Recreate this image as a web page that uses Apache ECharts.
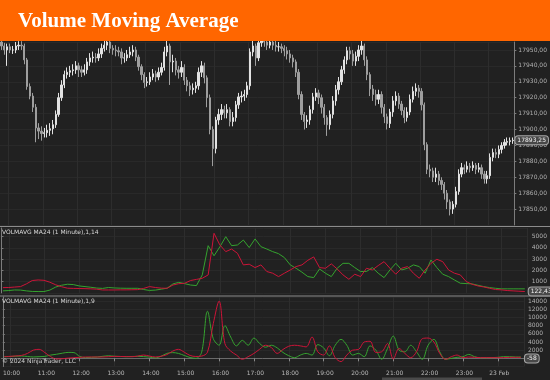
<!DOCTYPE html>
<html><head><meta charset="utf-8">
<script src="https://cdn.jsdelivr.net/npm/echarts@6/dist/echarts.min.js"></script>
<style>html,body{margin:0;padding:0;background:#212121;}#c{width:550px;height:380px;}</style>
</head><body><div id="c"></div>
<script>
// ---- categories (5-minute bars) ----
const barTimes = [
"09:45","09:50","09:55",
"10:00","10:05","10:10","10:15","10:20","10:25","10:30","10:35","10:40","10:45","10:50","10:55",
"11:00","11:05","11:10","11:15","11:20","11:25","11:30","11:35","11:40","11:45","11:50","11:55",
"12:00","12:05","12:10","12:15","12:20","12:25","12:30","12:35","12:40","12:45","12:50","12:55",
"13:00","13:05","13:10","13:15","13:20","13:25","13:30","13:35","13:40","13:45","13:50","13:55",
"14:00","14:05","14:10","14:15","14:20","14:25","14:30","14:35","14:40","14:45","14:50","14:55",
"15:00","15:05","15:10","15:15","15:20","15:25","15:30","15:35","15:40","15:45","15:50","15:55",
"16:00","16:05","16:10","16:15","16:20","16:25","16:30","16:35","16:40","16:45","16:50","16:55",
"17:00","17:05","17:10","17:15","17:20","17:25","17:30","17:35","17:40","17:45","17:50","17:55",
"18:00","18:05","18:10","18:15","18:20","18:25","18:30","18:35","18:40","18:45","18:50","18:55",
"19:00","19:05","19:10","19:15","19:20","19:25","19:30","19:35","19:40","19:45","19:50","19:55",
"20:00","20:05","20:10","20:15","20:20","20:25","20:30","20:35","20:40","20:45","20:50","20:55",
"21:00","21:05","21:10","21:15","21:20","21:25","21:30","21:35","21:40","21:45","21:50","21:55",
"22:00","22:05","22:10","22:15","22:20","22:25","22:30","22:35","22:40","22:45","22:50","22:55",
"23:00","23:05","23:10","23:15","23:20","23:25","23:30","23:35","23:40","23:45","23:50","23:55",
"00:00","00:05","00:10","00:15","00:20","00:25","00:30","00:35","00:40"
];
// ---- tick labels ----
const tickTimes  = ["10:00","11:00","12:00","13:00","14:00","15:00","16:00","17:00","18:00","19:00","20:00","21:00","22:00","23:00","00:00"];
const tickLabels = ["10:00","11:00","12:00","13:00","14:00","15:00","16:00","17:00","18:00","19:00","20:00","21:00","22:00","23:00","23 Feb"];

// ---- price bars (OHLC) ----
const opens = [
17955,17952.5,17950,17952,17950,17950,17952.5,17953,17952.5,17943.75,
17927,17921,17914,17901,17899,17897.5,17898,17899.5,17900.5,17903,
17909.5,17920,17928,17934.5,17936,17937,17937.5,17940,17937.5,17936,
17937.5,17942.5,17945,17945.5,17945,17947.5,17951,17953,17955,17951,
17950,17949.5,17948.75,17945,17945,17947,17948.75,17950,17945.5,17939.5,
17934.5,17929.5,17930,17933,17935,17933,17936,17939,17948.75,17952.5,
17942.5,17943,17937.5,17936,17939,17931,17927.5,17925,17926,17927.5,
17936,17940,17932.5,17920,17900,17888,17906,17909.5,17912.5,17910.5,
17912.5,17905,17907.5,17915.5,17920.5,17921,17922,17927.5,17948.75,17952.5,
17945,17954.5,17956,17955,17953,17955,17953,17952,17952,17951,
17949.5,17947.5,17945,17942.5,17936,17922,17909.5,17905,17906,17912.5,
17920.5,17923,17920,17914,17907.5,17903,17909.5,17918,17925,17930,
17937.5,17943.75,17949.5,17947.5,17943,17946,17950,17952.5,17943.75,17934.5,
17925.5,17922,17919,17922,17914,17908,17903.75,17911,17918,17921,
17916,17912,17907.5,17911,17919,17924,17926,17924,17915.5,17890.5,
17875,17874,17870,17872,17868,17865.5,17860,17854.5,17850,17853,
17861,17872,17876,17875,17877,17876,17877.5,17875,17876,17872,
17869,17871,17882.5,17885.5,17884.5,17887.5,17890,17892,17892.5,17893
];
const closes = [
17952.5,17950,17952,17950,17950,17952.5,17953,17952.5,17943.75,17927,
17921,17914,17901,17899,17897.5,17898,17899.5,17900.5,17903,17909.5,
17920,17928,17934.5,17936,17937,17937.5,17940,17937.5,17936,17937.5,
17942.5,17945,17945.5,17945,17947.5,17951,17953,17955,17951,17950,
17949.5,17948.75,17945,17945,17947,17948.75,17950,17945.5,17939.5,17934.5,
17929.5,17930,17933,17935,17933,17936,17939,17948.75,17952.5,17942.5,
17943,17937.5,17936,17939,17931,17927.5,17925,17926,17927.5,17936,
17940,17932.5,17920,17900,17888,17906,17909.5,17912.5,17910.5,17912.5,
17905,17907.5,17915.5,17920.5,17921,17922,17927.5,17948.75,17952.5,17945,
17954.5,17956,17955,17953,17955,17953,17952,17952,17951,17949.5,
17947.5,17945,17942.5,17936,17922,17909.5,17905,17906,17912.5,17920.5,
17923,17920,17914,17907.5,17903,17909.5,17918,17925,17930,17937.5,
17943.75,17949.5,17947.5,17943,17946,17950,17952.5,17943.75,17934.5,17925.5,
17922,17919,17922,17914,17908,17903.75,17911,17918,17921,17916,
17912,17907.5,17911,17919,17924,17926,17924,17915.5,17890.5,17875,
17874,17870,17872,17868,17865.5,17860,17854.5,17850,17853,17861,
17872,17876,17875,17877,17876,17877.5,17875,17876,17872,17869,
17871,17882.5,17885.5,17884.5,17887.5,17890,17892,17892.5,17893,17893.25
];
const lows = [
17950,17947,17940,17948,17947.5,17948,17950,17950,17941,17925,
17919,17911,17892,17894,17893,17895,17895,17896,17897,17901,
17908,17918,17926,17932,17933,17934,17935,17933,17933,17934,
17935,17940,17942,17942,17943,17945,17949,17950,17948,17947,
17946,17946,17941,17942,17943,17945,17946,17943,17937,17931,
17926,17927,17928,17931,17930,17931,17934,17937,17946,17928,
17936,17934,17932,17933,17928,17924,17921,17922,17923,17925,
17933,17929,17914,17897,17877,17885,17903,17906,17907,17907,
17902,17902,17905,17913,17917,17918,17920,17925,17946,17940,
17943,17952,17952,17950,17951,17950,17949,17949,17948,17946,
17944,17942,17939,17933,17919,17906,17900,17901,17903,17910,
17918,17916,17910,17903,17896,17900,17907,17915,17922,17928,
17935,17941,17944,17940,17940,17943,17947,17940,17931,17921,
17918,17915,17916,17910,17904,17900,17901,17908,17915,17913,
17909,17904,17905,17909,17917,17921,17920,17912,17887,17872,
17870,17867,17867,17865,17862,17856,17850,17846,17847,17851,
17859,17870,17872,17873,17873,17874,17872,17873,17869,17866,
17866,17869,17880,17882,17882,17885,17888,17890,17890,17891
];
const highs = [
17957,17954.5,17954,17954,17952.5,17955,17955.5,17955.5,17954,17945,
17929,17923,17916,17904,17902,17901,17903,17904,17906,17912,
17923,17931,17937,17939,17940,17941,17943,17942,17940,17941,
17945,17948,17949,17948,17951,17954,17957,17958,17957,17953,
17953,17952,17951,17948,17950,17952,17953,17952,17947,17941,
17936,17933,17936,17938,17937,17939,17942,17952,17956,17954,
17947,17945,17940,17943,17941,17933,17930,17929,17930,17939,
17943,17942,17934,17922,17902,17908,17913,17916,17915,17916,
17914,17911,17918,17923,17924,17925,17930,17951,17956,17954,
17958,17960,17959,17957,17958,17957,17956,17955,17954,17953,
17952,17950,17947,17944,17938,17924,17911,17909,17915,17923,
17926,17925,17922,17916,17909,17912,17921,17928,17933,17940,
17946,17952,17952,17950,17949,17953,17956,17954,17946,17936,
17928,17925,17925,17924,17916,17910,17913,17921,17924,17923,
17918,17914,17914,17922,17927,17929,17928,17926,17917,17892,
17878,17876,17876,17874,17870,17867,17862,17856,17855,17864,
17875,17879,17878,17880,17879,17880,17879,17879,17878,17874,
17874,17885,17888,17888,17890,17892,17894,17895,17895,17895
];

// ---- indicator series (one value per 10 minutes) ----
const midRed = [
470,480,520,560,800,1100,1150,1120,950,720,
550,420,400,390,380,360,330,260,260,260,
270,270,280,290,400,560,480,420,410,700,
820,860,1100,1200,1300,1600,5300,4260,3670,3900,
3520,2490,2550,2250,2490,1900,1750,1450,1750,2040,
2340,2490,2900,3200,2250,2190,2580,2130,1600,1210,
1660,1450,2190,2040,2430,2780,2190,1660,2190,2340,
1750,1300,2040,2630,2990,2780,2040,1750,1600,1010,
770,620,530,410,300,270,210,180,150,122.43
];
const midGreen = [
180,210,260,250,180,130,120,120,250,520,
680,770,740,620,560,500,430,400,480,440,
420,410,410,410,300,220,250,330,420,800,
940,820,700,650,1600,4200,3300,4100,5000,4200,
4260,4700,4030,4800,4110,3900,3670,3490,3140,2490,
2190,1840,1450,1360,2130,1750,1450,2190,2630,2630,
2250,1900,1900,2250,1750,1360,2040,2630,2040,2190,
2490,2340,1750,2930,2250,1660,1450,1150,860,830,
800,680,560,470,410,360,360,360,360,360
];
const lowRed = [
400,480,580,720,1200,2000,2200,1400,400,-150,
-100,50,150,250,320,320,320,330,400,480,
450,420,400,550,800,560,330,500,900,1750,
2200,1500,700,450,550,1500,8500,14000,3600,1760,
800,-240,400,1200,2240,3200,2640,1200,2160,2960,
3200,3040,2800,5200,1600,800,3040,160,-800,800,
2000,2160,4000,4160,1440,1600,3600,-160,2400,1200,
160,1600,4800,4960,4000,1200,-240,400,800,160,
320,240,160,160,160,160,160,240,240,240
];
const lowGreen = [
400,450,520,560,450,330,400,480,800,1000,
1250,1450,1400,450,180,250,320,500,620,500,
450,400,450,480,420,300,100,500,1200,1400,
1200,700,200,0,1500,11500,4800,3200,8000,5200,
3040,4400,3200,4960,3600,2720,3200,2560,1440,640,
160,800,1200,800,3360,2560,640,3200,4640,3200,
800,1200,400,3040,2000,-240,2400,5440,2000,1600,
3200,1600,-240,3200,4640,1600,-240,0,240,400,
960,400,160,160,160,240,400,400,320,320
];
const lastPrice = 17893.25;
const lastMid = 122.43;
const lastLow = -58;

// ---- texts ----
const titleText = "Volume Moving Average";
const midLabel = "VOLMAVG MA24 (1 Minute),1,14";
const lowLabel = "VOLMAVG MA24 (1 Minute),1,9";
const copyright = "\u00a9 2024 NinjaTrader, LLC";

// ---------------------------------------------------------
const chart = echarts.init(document.getElementById('c'), null, {renderer: 'canvas'});
const candleData = closes.map((c, i) => [opens[i], c, lows[i], highs[i]]);
const pairs = arr => arr.map((v, j) => [2 * j + 0.5, v]);
const isHour = (idx, val) => tickTimes.indexOf(val) >= 0;
const fontFam = 'DejaVu Sans';
const comma = v => String(v).replace('.', ',');

function catAxis(grid, showLabels) {
  return {
    type: 'category', gridIndex: grid, data: barTimes, boundaryGap: true,
    axisLine: {show: showLabels, lineStyle: {color: '#6a6a6a'}},
    axisTick: {show: showLabels, interval: isHour, length: 3, lineStyle: {color: '#8a8a8a'}},
    axisLabel: {show: showLabels, interval: isHour, fontSize: 6, color: '#b8b8b8', margin: 4, fontFamily: fontFam,
      formatter: v => tickLabels[tickTimes.indexOf(v)]},
    splitLine: {show: true, interval: isHour, lineStyle: {color: '#2d2d2d', width: 1}}
  };
}
function valXAxis(grid) {
  return {type: 'value', gridIndex: grid, min: -0.5, max: 179.5, show: false};
}
function yAx(grid, min, max, interval, fmt) {
  return {
    type: 'value', gridIndex: grid, position: 'right', min: min, max: max, interval: interval,
    axisLine: {show: true, lineStyle: {color: '#7c7c7c'}},
    axisTick: {show: true, length: 2, lineStyle: {color: '#7c7c7c'}},
    axisLabel: {fontSize: 6, color: '#b0b0b0', margin: 4, fontFamily: fontFam, showMinLabel: false, showMaxLabel: false, formatter: fmt},
    splitLine: {show: true, lineStyle: {color: '#292929'}}
  };
}
function lastMark(val, text) {
  return {
    silent: true, symbol: ['none', 'none'], animation: false,
    lineStyle: {width: 0, color: 'rgba(0,0,0,0)'},
    label: {show: true, position: 'end', distance: 1, formatter: text, fontSize: 6, color: '#f2f2f2', fontFamily: fontFam,
      backgroundColor: '#484848', borderColor: '#a8a8a8', borderWidth: 1, borderRadius: 3, padding: [1, 2]},
    data: [{yAxis: val}]
  };
}

chart.setOption({
  backgroundColor: '#212121',
  animation: false,
  grid: [
    {left: 0, right: 20, top: 42, height: 183},
    {left: 0, right: 20, top: 228, height: 64.9},
    {left: 0, right: 20, top: 297, height: 69.5}
  ],
  xAxis: [catAxis(0, false), catAxis(1, false), catAxis(2, true), valXAxis(1), valXAxis(2)],
  yAxis: [
    yAx(0, 17840, 17955, 10, v => v.toFixed(2).replace('.', ',')),
    yAx(1, 0, 5770, 1000, v => String(v)),
    yAx(2, -2000, 15000, 2000, v => (v <= 0 ? '' : String(v)))
  ],
  graphic: [
    {type: 'rect', left: 0, top: 0, shape: {width: 550, height: 41}, style: {fill: '#ff6600'}, z: 100},
    {type: 'text', left: 18, top: 11, style: {text: titleText, fill: '#ffffff', font: 'bold 21px "Liberation Serif", "DejaVu Serif", serif'}, z: 101},
    {type: 'line', shape: {x1: 0, y1: 226.5, x2: 550, y2: 226.5}, style: {stroke: '#8c8c8c', lineWidth: 1.2}, z: 50},
    {type: 'line', shape: {x1: 0, y1: 296, x2: 550, y2: 296}, style: {stroke: '#8c8c8c', lineWidth: 1.2}, z: 50},
    {type: 'text', left: 2, top: 229, style: {text: midLabel, fill: '#d8d8d8', font: '6px "DejaVu Sans"'}, z: 60},
    {type: 'text', left: 2, top: 298, style: {text: lowLabel, fill: '#d8d8d8', font: '6px "DejaVu Sans"'}, z: 60},
    {type: 'text', left: 2, top: 358, style: {text: copyright, fill: '#cfcfcf', font: '6px "DejaVu Sans"'}, z: 60},
    {type: 'rect', left: 382, top: 377.5, shape: {width: 100, height: 2.5}, style: {fill: '#4a4a4a'}, z: 60}
  ],
  series: [
    {
      type: 'candlestick', xAxisIndex: 0, yAxisIndex: 0, data: candleData, barWidth: '62%', clip: false,
      itemStyle: {color: '#e2e2e2', color0: '#9e9e9e', borderColor: '#e2e2e2', borderColor0: '#9e9e9e', borderWidth: 1},
      markLine: lastMark(lastPrice, comma(lastPrice.toFixed(2)))
    },
    {type: 'line', xAxisIndex: 3, yAxisIndex: 1, data: pairs(midGreen), symbol: 'none', clip: true,
      lineStyle: {color: '#35a32f', width: 1}, itemStyle: {color: '#35a32f'}},
    {type: 'line', xAxisIndex: 3, yAxisIndex: 1, data: pairs(midRed), symbol: 'none', clip: false,
      lineStyle: {color: '#cc1438', width: 1}, itemStyle: {color: '#cc1438'},
      markLine: lastMark(lastMid, comma(lastMid.toFixed(2)))},
    {type: 'line', xAxisIndex: 4, yAxisIndex: 2, data: pairs(lowGreen), symbol: 'none', smooth: 0.35, clip: true,
      lineStyle: {color: '#35a32f', width: 1}, itemStyle: {color: '#35a32f'}},
    {type: 'line', xAxisIndex: 4, yAxisIndex: 2, data: pairs(lowRed), symbol: 'none', smooth: 0.35, clip: false,
      lineStyle: {color: '#cc1438', width: 1}, itemStyle: {color: '#cc1438'},
      markLine: lastMark(lastLow, String(lastLow))}
  ]
});
</script>
</body></html>
